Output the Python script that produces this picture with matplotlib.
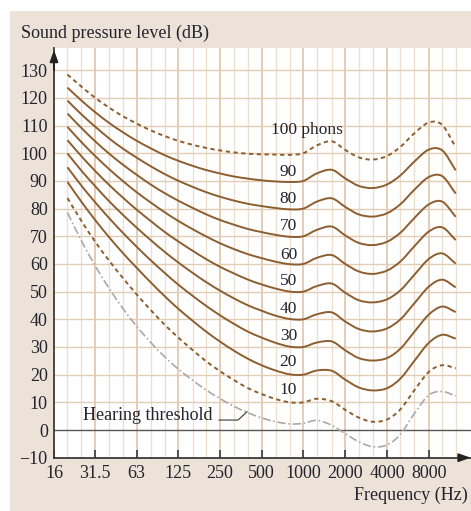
import matplotlib
matplotlib.use("Agg")
import numpy as np
import matplotlib.pyplot as plt
from matplotlib.patches import Rectangle, PathPatch
from matplotlib.path import Path
from matplotlib.ticker import FixedLocator, NullLocator, FixedFormatter

# Third-octave centre frequencies (Hz)
freqs = [20, 25, 31.5, 40, 50, 63, 80, 100, 125, 160, 200, 250, 315, 400,
         500, 630, 800, 1000, 1250, 1600, 2000, 2500, 3150, 4000, 5000,
         6300, 8000, 10000, 12500]

# Equal-loudness contours, sound pressure level in dB
phon_10 = [83.8, 75.8, 68.2, 61.1, 55.0, 49.0, 43.2, 38.1, 33.5, 28.8, 24.8, 21.3,
           18.1, 15.1, 13.0, 11.2, 10.0, 10.0, 11.3, 10.4, 7.3, 4.5, 3.0, 3.8,
           7.5, 14.4, 21.0, 23.4, 22.3]
phon_20 = [89.6, 82.7, 76.0, 69.6, 64.0, 58.6, 53.2, 48.4, 43.9, 39.4, 35.5, 32.0,
           28.7, 25.7, 23.4, 21.5, 20.1, 20.0, 21.5, 21.4, 18.2, 15.4, 14.3, 15.1,
           18.6, 25.0, 31.5, 34.4, 33.0]
phon_30 = [94.9, 88.5, 82.4, 76.5, 71.3, 66.2, 61.2, 56.8, 52.6, 48.4, 44.8, 41.5,
           38.4, 35.5, 33.4, 31.5, 30.1, 30.0, 31.6, 32.0, 28.8, 26.0, 25.1, 26.0,
           29.4, 35.5, 41.7, 44.6, 42.6]
phon_40 = [99.9, 93.9, 88.2, 82.6, 77.8, 73.1, 68.5, 64.4, 60.6, 56.7, 53.4, 50.4,
           47.6, 45.0, 43.1, 41.3, 40.1, 40.0, 41.8, 42.5, 39.2, 36.5, 35.6, 36.7,
           40.0, 45.8, 51.8, 54.3, 51.5]
phon_50 = [104.7, 99.1, 93.7, 88.5, 84.0, 79.6, 75.4, 71.6, 68.2, 64.7, 61.7, 59.0,
           56.6, 54.3, 52.6, 51.1, 50.0, 50.0, 52.0, 52.9, 49.6, 46.9, 46.1, 47.2,
           50.5, 56.1, 61.8, 63.8, 60.1]
phon_60 = [109.5, 104.2, 99.1, 94.2, 90.0, 85.9, 82.1, 78.7, 75.6, 72.5, 69.9, 67.5,
           65.4, 63.5, 62.1, 60.8, 59.9, 60.0, 62.2, 63.2, 60.0, 57.3, 56.4, 57.6,
           60.9, 66.4, 71.7, 73.2, 68.6]
phon_70 = [114.3, 109.3, 104.4, 99.8, 95.9, 92.2, 88.6, 85.6, 82.9, 80.2, 77.9, 75.9,
           74.2, 72.6, 71.5, 70.5, 69.8, 70.0, 72.3, 73.5, 70.3, 67.6, 66.8, 68.0,
           71.3, 76.6, 81.5, 82.5, 77.0]
phon_80 = [119.0, 114.2, 109.7, 105.3, 101.7, 98.4, 95.2, 92.5, 90.1, 87.8, 85.9, 84.3,
           82.9, 81.7, 80.9, 80.2, 79.7, 80.0, 82.5, 83.7, 80.6, 77.9, 77.1, 78.3,
           81.6, 86.8, 91.4, 91.7, 85.4]
phon_90 = [123.7, 119.2, 114.9, 110.9, 107.6, 104.5, 101.7, 99.3, 97.3, 95.4, 93.9, 92.7,
           91.6, 90.8, 90.2, 89.8, 89.6, 90.0, 92.7, 94.0, 90.9, 88.2, 87.4, 88.7,
           92.0, 97.0, 101.3, 101.0, 93.8]
phon_100 = [128.4, 124.2, 120.1, 116.4, 113.4, 110.7, 108.2, 106.2, 104.5, 103.0, 101.9,
            101.0, 100.3, 99.8, 99.6, 99.5, 99.4, 100.0, 102.8, 104.3, 101.2, 98.5,
            97.7, 99.0, 102.3, 107.2, 111.1, 110.2, 102.1]
hearing_threshold = [78.5, 68.7, 59.5, 51.1, 44.0, 37.5, 31.5, 26.5, 22.1, 17.9, 14.4,
                     11.4, 8.6, 6.2, 4.4, 3.0, 2.2, 2.4, 3.5, 1.7, -1.3, -4.2, -6.0,
                     -5.4, -1.5, 6.0, 12.6, 13.9, 12.3]

phon_levels = [10, 20, 30, 40, 50, 60, 70, 80, 90, 100]
contours = [phon_10, phon_20, phon_30, phon_40, phon_50,
            phon_60, phon_70, phon_80, phon_90, phon_100]

x_tick_values = [16, 31.5, 63, 125, 250, 500, 1000, 2000, 4000, 8000]
x_tick_labels = ["16", "31.5", "63", "125", "250", "500", "1000", "2000", "4000", "8000"]
y_tick_values = list(range(-10, 131, 10))
y_tick_labels = [("\u2212" + str(-v)) if v < 0 else str(v) for v in y_tick_values]

# ---- styling ----
BEIGE = "#ECE2D7"
GRID_H = "#E2CCB4"
GRID_MINOR = "#EDDFD0"
GRID_OCT = "#DEC6AC"
BROWN = "#8C5E30"
GREY = "#A9A9A9"
AXIS = "#3A3A3A"
TEXT = "#23232E"
FONT = ["Liberation Serif", "DejaVu Serif"]

plt.rcParams["font.family"] = FONT


def smooth_curve(xs, ys):
    """Catmull-Rom curve through every (x, y) point, built in log2-x space
    and returned as cubic Bezier path in data coordinates."""
    pts = np.column_stack([np.log2(np.asarray(xs, float)), np.asarray(ys, float)])
    ext = np.vstack([2 * pts[0] - pts[1], pts, 2 * pts[-1] - pts[-2]])
    verts = [pts[0]]
    codes = [Path.MOVETO]
    for i in range(len(pts) - 1):
        p0, p1, p2, p3 = ext[i], ext[i + 1], ext[i + 2], ext[i + 3]
        verts += [p1 + (p2 - p0) / 6.0, p2 - (p3 - p1) / 6.0, p2]
        codes += [Path.CURVE4] * 3
    verts = np.array(verts)
    verts[:, 0] = 2.0 ** verts[:, 0]
    return Path(verts, codes)


W, H = 471, 511
fig = plt.figure(figsize=(W / 100, H / 100), dpi=100)
fig.patch.set_facecolor("white")
fig.add_artist(Rectangle((10 / W, 0), (W - 10) / W, (H - 11) / H,
                         transform=fig.transFigure, facecolor=BEIGE,
                         edgecolor="none", zorder=0))

ax_left, ax_right, ax_top, ax_bottom = 54, 471, 48, 457.7
ax = fig.add_axes([ax_left / W, (H - ax_bottom) / H,
                   (ax_right - ax_left) / W, (ax_bottom - ax_top) / H])
ax.set_facecolor("white")
ax.set_xscale("log", base=2)
ax.set_xlim(16, 16100)
ax.set_ylim(-10, 138)

# grid: third-octave verticals (octaves slightly stronger), 10 dB horizontals
octave_set = set(x_tick_values)
for f in freqs:
    if f in octave_set:
        ax.axvline(f, color=GRID_OCT, lw=1.2, zorder=0.5)
    else:
        ax.axvline(f, color=GRID_MINOR, lw=0.9, zorder=0.4)
for v in range(10, 131, 10):
    ax.axhline(v, color=GRID_H, lw=1.0, zorder=0.6)
ax.axhline(0, color="#555555", lw=1.0, zorder=0.7)

# contours
for level, values in zip(phon_levels, contours):
    style = dict(fill=False, edgecolor=BROWN, lw=1.4, zorder=3, capstyle="butt")
    if level in (10, 100):
        style["linestyle"] = (0, (2.2, 1.8))
    ax.add_patch(PathPatch(smooth_curve(freqs, values), **style))

ax.add_patch(PathPatch(smooth_curve(freqs, hearing_threshold), fill=False,
                       edgecolor=GREY, lw=1.2, linestyle=(0, (5.0, 1.6, 1.0, 1.6)),
                       zorder=3))

# contour labels
label_x = 780
label_y = {10: 14.4, 20: 24.4, 30: 34.0, 40: 43.6, 50: 53.7,
           60: 63.2, 70: 73.7, 80: 83.4, 90: 93.3}
for level in phon_levels[:-1]:
    ax.text(label_x, label_y[level], str(level), ha="center", va="center",
            fontsize=12.5, color=TEXT, zorder=4)
ax.text(1062, 108.3, "100 phons", ha="center", va="center",
        fontsize=12.5, color=TEXT, zorder=4)

# hearing threshold caption with leader
ax.text(221, 5.4, "Hearing threshold", ha="right", va="center",
        fontsize=13, color=TEXT, zorder=4)
ax.plot([247, 338, 393], [3.6, 3.6, 6.6], color=AXIS, lw=0.8, zorder=4)

# axes
for side in ("top", "right"):
    ax.spines[side].set_visible(False)
for side in ("left", "bottom"):
    ax.spines[side].set_color(AXIS)
    ax.spines[side].set_linewidth(1.3)
    ax.spines[side].set_zorder(5)

ax.xaxis.set_major_locator(FixedLocator(x_tick_values))
ax.xaxis.set_major_formatter(FixedFormatter(x_tick_labels))
ax.xaxis.set_minor_locator(NullLocator())
ax.yaxis.set_major_locator(FixedLocator(y_tick_values))
ax.yaxis.set_major_formatter(FixedFormatter(y_tick_labels))
ax.yaxis.set_minor_locator(NullLocator())
ax.tick_params(axis="x", direction="in", length=6, width=1.2, color=AXIS,
               labelsize=13, labelcolor=TEXT, pad=5)
ax.tick_params(axis="y", length=0, labelsize=13, labelcolor=TEXT, pad=4.5)

# axis arrows
ax.annotate("", xy=(16, 137.3), xytext=(16, 130), xycoords="data",
            arrowprops=dict(arrowstyle="-|>,head_length=0.7,head_width=0.25",
                            color="#222222", lw=1.3, shrinkA=0, shrinkB=0),
            annotation_clip=False, zorder=6)
ax.annotate("", xy=(16000, -10), xytext=(14000, -10), xycoords="data",
            arrowprops=dict(arrowstyle="-|>,head_length=0.7,head_width=0.25",
                            color="#222222", lw=1.3, shrinkA=0, shrinkB=0),
            annotation_clip=False, zorder=6)

fig.text(20.7 / W, 1 - 33 / H, "Sound pressure level (dB)", ha="left",
         va="center", fontsize=13, color=TEXT)
fig.text(468 / W, 1 - 495 / H, "Frequency (Hz)", ha="right", va="center",
         fontsize=13, color=TEXT)

fig.savefig("out.png", dpi=100, facecolor=fig.get_facecolor())
